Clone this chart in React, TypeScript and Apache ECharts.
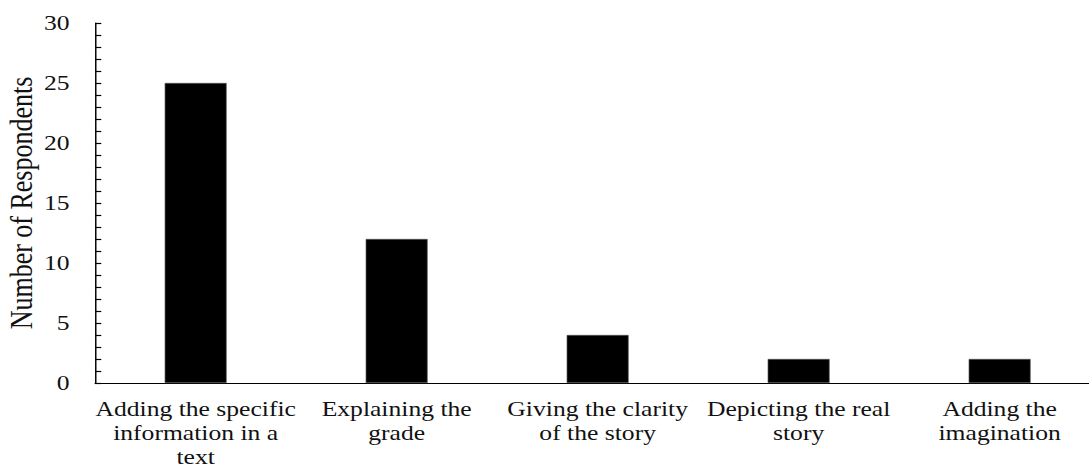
import React, { useEffect, useRef } from "react";
import * as echarts from "echarts";

const categories = [
  "Adding the specific\ninformation in a\ntext",
  "Explaining the\ngrade",
  "Giving the clarity\nof the story",
  "Depicting the real\nstory",
  "Adding the\nimagination",
];
const respondents = [25, 12, 4, 2, 2];
const yAxisName = "Number of Respondents";
const yMin = 0;
const yMax = 30;
const yLabelStep = 5;

const SX = 1.22;
const W = 1089 / SX;
const H = 466;
const FONT = '"Liberation Serif", "Times New Roman", serif';

export default function App() {
  const ref = useRef<HTMLDivElement>(null);
  useEffect(() => {
    if (!ref.current) return;
    const chart = echarts.init(ref.current, undefined, { renderer: "svg" });
    chart.setOption({
      animation: false,
      backgroundColor: "#ffffff",
      textStyle: { fontFamily: FONT, color: "#111" },
      grid: {
        left: 78,
        top: 23,
        bottom: 83,
        width: 164.75 * 5,
        containLabel: false,
        outerBoundsMode: "none",
      },
      xAxis: {
        type: "category",
        data: categories,
        axisLine: { show: true, lineStyle: { color: "#000", width: 1.2 } },
        axisTick: { show: false },
        axisLabel: {
          interval: 0,
          fontFamily: FONT,
          fontSize: 21,
          lineHeight: 24,
          color: "#111",
          margin: 14,
          align: "center",
          hideOverlap: false,
        },
      },
      yAxis: {
        type: "value",
        min: yMin,
        max: yMax,
        interval: 1,
        name: yAxisName,
        nameLocation: "middle",
        nameRotate: 90,
        nameGap: 48,
        nameMoveOverlap: false,
        nameTextStyle: { fontFamily: FONT, fontSize: 26, color: "#111" },
        axisLine: { show: true, lineStyle: { color: "#000", width: 1.2 } },
        axisTick: { show: true, inside: true, length: 5, lineStyle: { color: "#000", width: 1.2 } },
        splitLine: { show: false },
        axisLabel: {
          fontFamily: FONT,
          fontSize: 21,
          color: "#111",
          margin: 21,
          formatter: (v: number) => (v % yLabelStep === 0 ? String(v) : ""),
        },
      },
      series: [
        {
          type: "bar",
          data: respondents,
          barWidth: 62 / SX,
          itemStyle: { color: "#000", borderColor: "#555", borderWidth: 0.6 },
        },
      ],
    });
    return () => chart.dispose();
  }, []);
  return (
    <div
      ref={ref}
      style={{
        position: "absolute",
        left: 0,
        top: 0,
        width: W,
        height: H,
        transform: `scaleX(${SX})`,
        transformOrigin: "0 0",
      }}
    />
  );
}
